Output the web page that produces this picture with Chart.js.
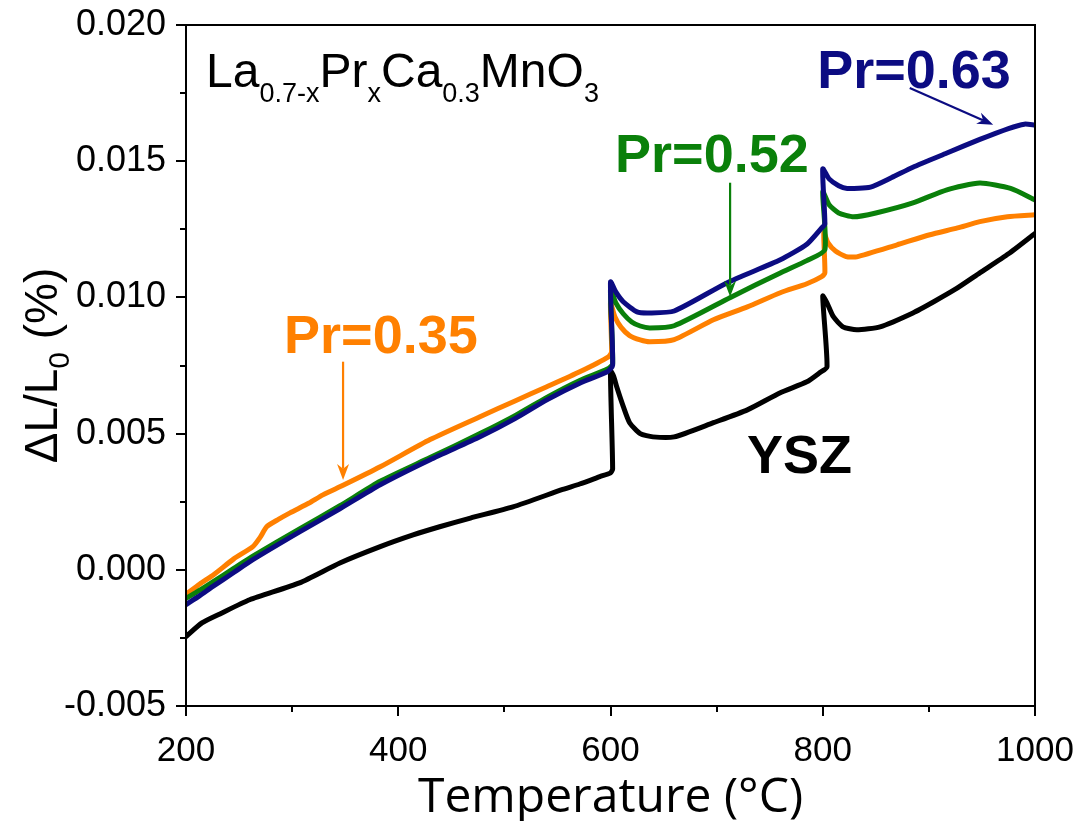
<!DOCTYPE html>
<html><head><meta charset="utf-8">
<script src="https://cdn.jsdelivr.net/npm/chart.js@4"></script>
<style>html,body{margin:0;padding:0;background:#fff;}</style>
</head><body>
<canvas id="c" width="1079" height="821" style="display:block;width:1079px;height:821px"></canvas>
<script>
// ---- axis ticks ----
const xMajorTicks = [200, 400, 600, 800, 1000];
const xMinorTicks = [300, 500, 700, 900];
const yMajorTicks = [-0.005, 0.000, 0.005, 0.010, 0.015, 0.020];
const yMinorTicks = [-0.0025, 0.0025, 0.0075, 0.0125, 0.0175];

// ---- YSZ ----
const tempYSZ = [200, 215, 232, 260, 307, 345, 383, 414, 439, 468, 508, 555, 571, 590, 600, 602, 600, 603, 606, 612, 618, 628, 640, 660, 697, 729, 760, 785, 797, 804, 800, 804, 810, 819, 832, 854, 885, 905, 925, 948, 975, 1000];
const dlYSZ = [-0.00245, -0.00195, -0.00162, -0.00110, -0.00048, 0.00025, 0.00085, 0.00128, 0.00158, 0.00190, 0.00231, 0.00295, 0.00315, 0.00342, 0.00356, 0.00370, 0.00730, 0.00710, 0.00670, 0.00600, 0.00540, 0.00500, 0.00488, 0.00488, 0.00540, 0.00587, 0.00650, 0.00690, 0.00723, 0.00745, 0.01005, 0.00980, 0.00929, 0.00892, 0.00881, 0.00892, 0.00943, 0.00985, 0.01030, 0.01090, 0.01160, 0.01235];

// ---- Pr = 0.35 ----
const temp035 = [200, 213, 226, 245, 263, 270, 276, 287, 298, 316, 329, 348, 383, 430, 477, 510, 540, 571, 598, 601, 600, 604, 610, 618, 628, 637, 660, 697, 729, 760, 785, 799, 802, 801, 805, 812, 822, 832, 870, 901, 927, 948, 974, 1000];
const dl035 = [-0.00090, -0.00052, -0.00018, 0.00040, 0.00085, 0.00120, 0.00158, 0.00185, 0.00209, 0.00245, 0.00275, 0.00310, 0.00378, 0.00478, 0.00562, 0.00620, 0.00672, 0.00727, 0.00782, 0.00800, 0.00980, 0.00930, 0.00890, 0.00860, 0.00844, 0.00837, 0.00845, 0.00918, 0.00965, 0.01017, 0.01050, 0.01076, 0.01090, 0.01237, 0.01200, 0.01170, 0.01150, 0.01149, 0.01193, 0.01230, 0.01255, 0.01278, 0.01296, 0.01303];

// ---- Pr = 0.52 ----
const temp052 = [200, 213, 225, 245, 263, 307, 345, 383, 430, 477, 510, 540, 571, 597, 602, 600, 605, 612, 620, 628, 637, 660, 713, 760, 785, 802, 800, 806, 815, 829, 850, 885, 917, 948, 977, 1000];
const dl052 = [-0.00105, -0.00075, -0.00045, 0.00005, 0.00050, 0.00150, 0.00235, 0.00325, 0.00412, 0.00500, 0.00566, 0.00633, 0.00695, 0.00737, 0.00755, 0.01030, 0.00980, 0.00940, 0.00910, 0.00895, 0.00888, 0.00896, 0.01000, 0.01090, 0.01135, 0.01175, 0.01388, 0.01340, 0.01310, 0.01296, 0.01310, 0.01347, 0.01395, 0.01420, 0.01400, 0.01358];

// ---- Pr = 0.63 ----
const temp063 = [200, 213, 225, 245, 263, 307, 345, 383, 430, 477, 510, 540, 571, 597, 602, 600, 605, 612, 625, 637, 660, 710, 760, 785, 799, 802, 800, 806, 815, 823, 845, 865, 885, 917, 948, 975, 990, 1000];
const dl063 = [-0.00128, -0.00095, -0.00062, -0.00010, 0.00037, 0.00139, 0.00224, 0.00312, 0.00404, 0.00488, 0.00555, 0.00624, 0.00685, 0.00727, 0.00750, 0.01057, 0.01020, 0.00984, 0.00947, 0.00943, 0.00950, 0.01054, 0.01138, 0.01195, 0.01255, 0.01270, 0.01472, 0.01435, 0.01410, 0.01400, 0.01405, 0.01440, 0.01478, 0.01530, 0.01580, 0.01620, 0.01636, 0.01633];

const seriesNames = ['Pr=0.63', 'Pr=0.52', 'Pr=0.35', 'YSZ'];
const seriesColors = ['#0c0c82', '#0a800a', '#ff8000', '#000000'];

function pts(t, v) { return t.map((x, i) => ({ x: x, y: v[i] })); }

const ds = [
  { label: seriesNames[0], data: pts(temp063, dl063), borderColor: seriesColors[0], order: 0 },
  { label: seriesNames[1], data: pts(temp052, dl052), borderColor: seriesColors[1], order: 1 },
  { label: seriesNames[2], data: pts(temp035, dl035), borderColor: seriesColors[2], order: 2 },
  { label: seriesNames[3], data: pts(tempYSZ, dlYSZ), borderColor: seriesColors[3], order: 3 }
].map(d => Object.assign(d, { showLine: true, pointRadius: 0, borderWidth: 5, tension: 0.2, fill: false, borderJoinStyle: 'round', borderCapStyle: 'round' }));

// annotation anchors (data coordinates)
const labels = [
  { text: 'Pr=0.63', x: 794.7, y: 0.01769, color: seriesColors[0] },
  { text: 'Pr=0.52', x: 604.3, y: 0.01461, color: seriesColors[1] },
  { text: 'Pr=0.35', x: 292.4, y: 0.00797, color: seriesColors[2] },
  { text: 'YSZ', x: 728.7, y: 0.00356, color: seriesColors[3] }
];
const arrows = [
  { x1: 882, y1: 0.01769, x2: 960.6, y2: 0.01634, color: seriesColors[0] },
  { x1: 712.7, y1: 0.01421, x2: 712.7, y2: 0.01002, color: seriesColors[1] },
  { x1: 348, y1: 0.00764, x2: 348, y2: 0.00330, color: seriesColors[2] }
];
const formula = [['La', 0], ['0.7-x', 1], ['Pr', 0], ['x', 1], ['Ca', 0], ['0.3', 1], ['MnO', 0], ['3', 1]];
const formulaAnchor = { x: 218.9, y: 0.01773 };

function drawRich(ctx, parts, x, y, mainFont, subFont, subDy, align) {
  let w = 0;
  parts.forEach(p => { ctx.font = p[1] ? subFont : mainFont; w += ctx.measureText(p[0]).width; });
  let cx = align === 'center' ? x - w / 2 : x;
  ctx.textAlign = 'left';
  ctx.textBaseline = 'alphabetic';
  parts.forEach(p => {
    ctx.font = p[1] ? subFont : mainFont;
    ctx.fillText(p[0], cx, y + (p[1] ? subDy : 0));
    cx += ctx.measureText(p[0]).width;
  });
}

const deco = {
  id: 'deco',
  afterDraw(chart) {
    const ctx = chart.ctx, a = chart.chartArea, xs = chart.scales.x, ys = chart.scales.y;
    ctx.save();
    ctx.strokeStyle = '#000';
    ctx.lineWidth = 2;
    ctx.strokeRect(a.left, a.top, a.right - a.left, a.bottom - a.top);
    ctx.beginPath();
    yMajorTicks.forEach(v => { const p = Math.round(ys.getPixelForValue(v)); ctx.moveTo(a.left - 10, p); ctx.lineTo(a.left, p); });
    yMinorTicks.forEach(v => { const p = Math.round(ys.getPixelForValue(v)); ctx.moveTo(a.left - 6, p); ctx.lineTo(a.left, p); });
    xMajorTicks.forEach(v => { const p = Math.round(xs.getPixelForValue(v)); ctx.moveTo(p, a.bottom); ctx.lineTo(p, a.bottom + 10); });
    xMinorTicks.forEach(v => { const p = Math.round(xs.getPixelForValue(v)); ctx.moveTo(p, a.bottom); ctx.lineTo(p, a.bottom + 6); });
    ctx.stroke();

    // arrows
    arrows.forEach(ar => {
      const x1 = xs.getPixelForValue(ar.x1), y1 = ys.getPixelForValue(ar.y1);
      const x2 = xs.getPixelForValue(ar.x2), y2 = ys.getPixelForValue(ar.y2);
      const ang = Math.atan2(y2 - y1, x2 - x1), L = 16, W = 6;
      ctx.strokeStyle = ar.color; ctx.fillStyle = ar.color; ctx.lineWidth = 2.2;
      ctx.beginPath(); ctx.moveTo(x1, y1);
      ctx.lineTo(x2 - L * 0.7 * Math.cos(ang), y2 - L * 0.7 * Math.sin(ang)); ctx.stroke();
      ctx.beginPath(); ctx.moveTo(x2, y2);
      ctx.lineTo(x2 - L * Math.cos(ang) + W * Math.sin(ang), y2 - L * Math.sin(ang) - W * Math.cos(ang));
      ctx.lineTo(x2 - L * 0.7 * Math.cos(ang), y2 - L * 0.7 * Math.sin(ang));
      ctx.lineTo(x2 - L * Math.cos(ang) - W * Math.sin(ang), y2 - L * Math.sin(ang) + W * Math.cos(ang));
      ctx.closePath(); ctx.fill();
    });

    // series labels
    ctx.textAlign = 'left'; ctx.textBaseline = 'alphabetic';
    labels.forEach(l => {
      ctx.font = 'bold 54px "Liberation Sans", Arial, sans-serif';
      ctx.fillStyle = l.color;
      ctx.fillText(l.text, xs.getPixelForValue(l.x), ys.getPixelForValue(l.y));
    });

    // formula
    ctx.fillStyle = '#000';
    drawRich(ctx, formula, xs.getPixelForValue(formulaAnchor.x), ys.getPixelForValue(formulaAnchor.y),
      '48px "Liberation Sans", Arial, sans-serif', '27px "Liberation Sans", Arial, sans-serif', 15, 'left');

    // y title
    ctx.save();
    ctx.translate(57, (a.top + a.bottom) / 2);
    ctx.rotate(-Math.PI / 2);
    drawRich(ctx, [['\u0394L/L', 0], ['0', 1], [' (%)', 0]], 0, 0,
      '46px "Liberation Sans", Arial, sans-serif', '30px "Liberation Sans", Arial, sans-serif', 12, 'center');
    ctx.restore();

    // x title
    ctx.font = '48px "Open Sans", sans-serif';
    ctx.textAlign = 'center'; ctx.textBaseline = 'alphabetic';
    ctx.fillText('Temperature (\u00B0C)', (a.left + a.right) / 2, 812);
    ctx.restore();
  }
};

new Chart(document.getElementById('c'), {
  type: 'scatter',
  data: { datasets: ds },
  options: {
    responsive: false,
    animation: false,
    devicePixelRatio: 1,
    layout: { padding: { top: 25, right: 44, left: 0, bottom: 0 } },
    plugins: { legend: { display: false }, tooltip: { enabled: false } },
    scales: {
      x: {
        type: 'linear', min: 200, max: 1000,
        afterFit: s => { s.height = 115; s.paddingLeft = 0; s.paddingRight = 0; },
        afterBuildTicks: s => { s.ticks = xMajorTicks.map(v => ({ value: v })); },
        grid: { display: false, drawTicks: false },
        border: { display: false },
        ticks: { padding: 24, color: '#000', font: { family: '"Liberation Sans", Arial, sans-serif', size: 35 }, maxRotation: 0, callback: v => String(v) }
      },
      y: {
        type: 'linear', min: -0.005, max: 0.020,
        afterFit: s => { s.width = 186; s.paddingTop = 0; s.paddingBottom = 0; },
        afterBuildTicks: s => { s.ticks = yMajorTicks.map(v => ({ value: v })); },
        grid: { display: false, drawTicks: false },
        border: { display: false },
        ticks: { padding: 20, color: '#000', font: { family: '"Liberation Sans", Arial, sans-serif', size: 36 }, callback: v => v.toFixed(3) }
      }
    }
  },
  plugins: [deco]
});
</script>
</body></html>
